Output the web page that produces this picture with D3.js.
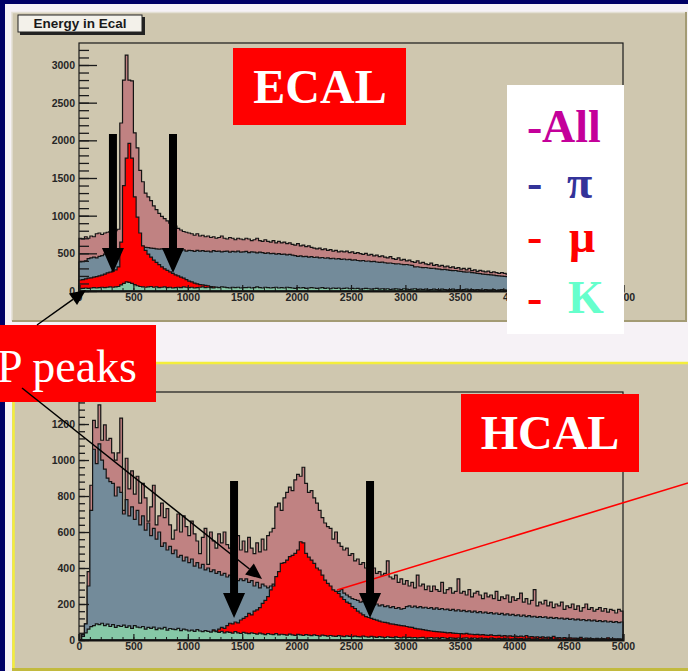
<!DOCTYPE html>
<html>
<head>
<meta charset="utf-8">
<script src="https://cdn.jsdelivr.net/npm/d3@7"></script>
<style>
body { margin: 0; background: #f6f2f6; }
svg { display: block; }
</style>
</head>
<body>
<svg id="chart" width="688" height="671"></svg>
<script>
const svg = d3.select("#chart");

const binWidth = 25;
const xMax = 5000;
const xTicks = [0, 500, 1000, 1500, 2000, 2500, 3000, 3500, 4000, 4500, 5000];
const ecalYTicks = [0, 500, 1000, 1500, 2000, 2500, 3000];
const hcalYTicks = [0, 200, 400, 600, 800, 1000, 1200];

// ECAL, 200 bins of 25
const ecalAll = [700, 690, 720, 700, 730, 720, 760, 770, 750, 770, 780,
  790, 780, 800, 820,
  2230, 2800, 3130, 2800, 2790,
  2100, 1900, 1600, 1450, 1300, 1250, 1200, 1130, 1080, 1030,
  990, 960, 930, 900, 880, 860, 830, 810, 790, 780, 770, 760,
  740, 760, 730, 740, 720, 730, 710, 720, 700, 710, 730, 700, 690, 710, 700, 680, 700,
  690, 680, 700, 690, 670, 680, 700, 670, 660, 680, 660, 650, 670, 640, 660, 640, 650, 630, 640, 620,
  610, 630, 600, 610, 590, 600, 580, 570, 560, 570, 550, 560, 540, 550, 530, 540, 520, 530,
  520, 530, 510, 520, 500, 510, 495, 485, 500, 475, 485, 465, 475, 455, 465, 450, 440, 455, 430, 420, 440, 410, 420, 400,
  410, 390, 380, 400, 370, 380, 360, 350, 370, 340, 350, 330, 340, 320, 330, 310, 320, 300, 310, 290,
  300, 280, 300, 270, 280, 260, 275, 265, 255, 265, 245, 255, 245, 235, 245, 235, 225,
  215, 205, 210, 200, 205, 195, 200, 190, 195, 185, 190, 180, 185, 178, 180, 172, 175, 168, 170, 165,
  168, 160, 163, 158, 160, 155, 158, 150, 153, 148, 150, 145, 148, 142, 145, 140, 142, 138, 140, 135, 137, 132];

const ecalPi = [385, 390, 400, 430, 440, 450, 440, 460, 470, 490, 500, 500, 510, 520,
  540, 560, 570, 580, 590, 600, 600, 600, 590,
  585, 580, 575, 570, 565, 560, 555, 560, 550, 545, 550, 540, 545,
  540, 535, 545, 530, 540, 535, 525, 540, 530, 535, 525, 530, 520, 535, 525, 530, 520, 525, 530, 515,
  525, 520, 530, 515, 520, 525, 510, 520, 515, 505, 515, 510,
  500, 505, 495, 500, 490, 495, 485, 490, 480, 485, 475,
  470, 460, 465, 455, 460, 450, 455, 445, 450, 440, 445, 435, 440, 430, 435, 425, 430, 420,
  425, 415, 420, 410, 412, 405, 400, 405, 395, 398, 390, 392, 385,
  380, 382, 375, 370, 372, 365, 360, 362, 355, 350, 352, 345, 340,
  320, 322, 315, 310, 312, 305, 300, 302, 295, 290, 285, 287,
  280, 275, 270, 272, 265, 260, 255, 250, 252, 245, 240, 235,
  230, 225, 222, 218, 214, 210, 205, 200, 198, 194, 190,
  188, 185, 183, 180, 178, 175, 173, 170, 168, 166, 164, 162, 160, 158, 156, 154, 152, 150, 148, 146,
  144, 142, 140, 138, 136, 134, 132, 130, 128, 126, 124, 122, 120, 118, 116, 114, 112, 111, 110, 109, 108, 107];

const ecalMu = [146, 150, 160, 170, 175, 185, 190, 200, 210, 225, 240, 250, 265, 280, 320,
  650, 1400, 1765, 1960, 1765, 1250, 980, 770, 600, 540,
  490, 450, 410, 380, 350, 320, 295, 275, 255, 235, 215, 200, 185, 170, 150,
  130, 120, 105, 95, 85, 80, 75, 70, 60, 55, 50, 45, 40, 50, 35, 30, 40, 25, 20, 30,
  15, 20, 10, 25, 10, 5, 15, 20, 10, 5, 15, 10, 20, 5, 10, 15, 5, 10, 5, 10];

const ecalK = [30, 35, 40, 35, 40, 45, 40, 45, 50, 45, 50, 55, 50, 55, 60,
  80, 100, 120, 115, 100, 85, 70, 60,
  55, 50, 55, 60, 50, 55, 45, 50, 55, 45, 50, 40, 45, 50, 45, 55, 50, 45, 50, 40,
  45, 50, 55, 45, 50, 45, 40, 50, 45, 55, 50, 45, 40, 50, 45, 50, 40, 45,
  45, 50, 40, 45, 55, 45, 40, 50, 45, 40, 45, 50, 40, 45, 40, 50, 45, 40, 35, 45,
  40, 45, 35, 40, 45, 40, 35, 40, 45, 35, 40, 30, 40, 35, 40, 30, 35, 40, 30, 35,
  30, 35, 25, 30, 35, 30, 25, 30, 35, 25, 30, 25, 30, 20, 25, 30, 25, 20, 30, 25,
  20, 25, 30, 20, 25, 20, 25, 15, 20, 25, 20, 15, 25, 20, 15, 20, 25, 15, 20, 15,
  20, 25, 15, 20, 15, 20, 15, 10, 20, 15,
  15, 20, 10, 15, 20, 15, 10, 15, 10, 15, 20, 10, 15, 10, 15, 10, 5, 15, 10, 15,
  10, 5, 10, 15, 10, 5, 10, 10, 5, 10, 15, 5, 10, 5, 10, 5, 10, 5, 5, 10,
  5, 10, 5, 5, 10, 5, 5, 10, 5];

// HCAL, 200 bins of 25
const hcalAll = [0, 30, 90, 380, 860, 1220, 1180, 1306, 1110, 1195,
  1110, 1120, 1040, 1000, 1040, 1233, 720, 1010, 840, 940,
  810, 910, 760, 870, 790, 660, 740, 860, 640, 690,
  760, 680, 730, 640, 560, 610, 700, 600, 690, 630,
  580, 660, 590, 550, 480, 570, 620, 420, 600, 550,
  510, 590, 540, 600, 530, 510, 570, 380, 580, 500,
  550, 490, 570, 510, 480, 540, 490, 560, 500, 580,
  600, 620, 740, 760, 720, 790, 820, 850, 830, 890,
  920, 910, 960, 870, 820, 830, 790, 760, 720, 680,
  650, 630, 620, 560, 600, 540, 520, 500, 510, 470,
  480, 440, 450, 420, 430, 400, 420, 390, 400, 370,
  380, 360, 370, 440, 350, 340, 360, 320, 340, 310,
  330, 300, 320, 290, 360, 300, 310, 280, 300, 270,
  300, 280, 270, 320, 260, 280, 290, 260, 270, 340,
  260, 270, 250, 280, 240, 260, 270, 250, 230, 260,
  240, 250, 230, 270, 220, 240, 230, 250, 210, 240,
  220, 230, 260, 210, 230, 200, 220, 280, 190, 210,
  200, 220, 190, 210, 180, 200, 190, 210, 170, 190,
  180, 200, 170, 190, 160, 180, 200, 170, 180, 160,
  170, 180, 160, 175, 155, 170, 165, 150, 170, 160];

const hcalPi = [0, 30, 90, 300, 720, 1060, 980, 1090, 1000, 950,
  900, 880, 870, 800, 850, 820, 700, 780, 690, 740,
  670, 720, 640, 690, 610, 650, 580, 620, 560, 600,
  520, 540, 500, 520, 480, 500, 460, 470, 440, 460,
  430, 450, 410, 430, 400, 420, 390, 400, 380, 390,
  370, 380, 360, 370, 350, 360, 340, 350, 330, 340,
  330, 340, 320, 330, 300, 320, 290, 310, 300, 290,
  300, 310, 290, 300, 280, 290, 270, 280, 270, 260,
  260, 270, 250, 260, 250, 240, 250, 240, 230, 240,
  230, 240, 230, 250, 260, 270, 280, 260, 250, 240,
  230, 225, 220, 210, 215, 205, 200, 205, 195, 200,
  190, 195, 185, 190, 180, 185, 175, 180, 172, 175,
  185, 190, 182, 188, 180, 185, 178, 182, 175, 180,
  172, 178, 170, 175, 168, 172, 165, 170, 162, 168,
  160, 165, 158, 162, 155, 160, 152, 158, 150, 155,
  148, 152, 145, 150, 142, 148, 140, 145, 138, 142,
  135, 140, 132, 138, 130, 135, 128, 132, 126, 130,
  125, 128, 122, 126, 120, 124, 118, 122, 116, 120,
  115, 118, 112, 116, 110, 114, 108, 112, 106, 110,
  104, 108, 102, 106, 100, 104, 98, 102, 96, 100];

const hcalMu = [0, 0, 0, 0, 0, 0, 0, 0, 0, 0, 0, 0, 0, 0, 0, 0, 0, 0, 0, 0,
  0, 0, 0, 0, 0, 0, 0, 0, 0, 0, 0, 0, 0, 0, 0, 0, 0, 0, 0, 0,
  0, 0, 0, 0, 0, 0, 0,
  20, 40, 56, 50, 60, 70, 65, 80, 93, 90, 100, 95, 111,
  120, 130, 148, 140, 160, 167, 180, 204, 220, 241,
  278, 300, 352, 380, 426, 430, 444, 463, 470, 481,
  500, 546, 540, 481, 460, 444, 426, 400, 389, 360,
  333, 315, 300, 278, 270, 259, 240, 225, 210, 204,
  185, 175, 160, 150, 140, 130, 125, 120, 115, 110,
  105, 100, 98, 95, 90, 88, 85, 83, 80, 78,
  75, 72, 70, 65, 62, 60, 58, 55, 52, 50,
  48, 46, 45, 44, 42, 40, 41, 38, 37, 36,
  35, 34, 37, 33, 32, 30, 31, 28, 30, 27,
  26, 28, 25, 24, 26, 22, 24, 21, 23, 20,
  22, 19, 21, 18, 25, 17, 19, 16, 18, 15,
  17, 14, 16, 13, 20, 12, 14, 11, 13, 10,
  12, 10, 11, 9, 15, 8, 10, 9, 8, 7, 9, 6, 8, 7, 12, 6, 7, 5, 6, 5];

const hcalK = [0, 20, 40, 60,
  74, 80, 90, 85, 93, 80, 88, 75, 85, 70, 80,
  75, 83, 70, 78, 65, 80, 72, 68, 75, 60, 70, 65, 72, 58, 66, 62, 70, 55, 64, 60, 58, 65, 52, 60, 56, 50,
  55, 48, 58, 50, 46, 52, 48, 44, 50, 46, 42, 48, 40, 45, 42, 38, 46, 40, 36, 42,
  38, 35, 40, 36, 33, 38, 34, 30, 36, 32, 30, 35, 28, 32, 30, 27, 33, 29, 26, 31,
  28, 25, 30, 27, 24, 28, 25, 22, 27, 24, 21, 25, 22, 20, 24, 21, 19, 23, 20, 18,
  22, 19, 17, 21, 18, 16, 20, 17, 15, 19, 16, 14, 18, 15, 13, 17, 14, 12, 16, 13,
  15, 12, 14, 11, 13, 15, 10, 12, 14, 10, 12, 9, 13, 11, 8, 12, 10, 9, 11, 8,
  10, 12, 7, 9, 11, 8, 10, 7, 9, 6, 10, 8, 7, 9, 6, 8, 10, 5, 7, 9,
  6, 8, 5, 7, 9, 5, 6, 8, 4, 6, 7, 5, 8, 4, 6, 5, 7, 4, 6, 5,
  3, 6, 5, 4, 7, 3, 5, 6, 4, 5, 3, 6, 4, 5, 3, 4, 5, 3, 4];

const colAll = "#c08282", colPi = "#738b9a", colMu = "#ff0000", colK = "#86c8a6";
const padFill = "#cfc7af";
const serif = "'Liberation Serif', 'Times New Roman', serif";
const sans = "'Liberation Sans', Arial, sans-serif";

// slide background
svg.append("rect").attr("width", 688).attr("height", 671).attr("fill", "#f6f2f6");
svg.append("rect").attr("width", 688).attr("height", 4).attr("fill", "#000066");
svg.append("rect").attr("width", 5).attr("height", 671).attr("fill", "#000066");

// pads
svg.append("rect").attr("x", 12).attr("y", 12).attr("width", 675).attr("height", 310).attr("fill", padFill);
svg.append("path").attr("d", "M12,321V12.5H687").attr("fill", "none").attr("stroke", "#e4e0d4").attr("stroke-width", 1.5);
svg.append("path").attr("d", "M12,321H686V12").attr("fill", "none").attr("stroke", "#a39b74").attr("stroke-width", 2);

svg.append("rect").attr("x", 12).attr("y", 362).attr("width", 676).attr("height", 309).attr("fill", padFill);
svg.append("path").attr("d", "M13.5,671V363H688").attr("fill", "none").attr("stroke", "#f4ee3c").attr("stroke-width", 2.5);
svg.append("path").attr("d", "M12,669.5H688").attr("fill", "none").attr("stroke", "#c2ba3e").attr("stroke-width", 3);

function histPath(vals, x, y) {
  const pts = vals.map((v, i) => [i * binWidth, v]);
  pts.push([vals.length * binWidth, vals[vals.length - 1]]);
  return d3.area().curve(d3.curveStepAfter)
    .x(d => x(d[0])).y0(y(0)).y1(d => y(d[1]))(pts);
}

function drawPanel(p) {
  const g = svg.append("g");
  const x = d3.scaleLinear().domain([0, xMax]).range([p.left, p.right]);
  const y = d3.scaleLinear().domain([0, p.yMax]).range([p.bottom, p.top]);

  p.series.forEach(s => {
    g.append("path")
      .attr("d", histPath(s.values, x, y))
      .attr("fill", s.color)
      .attr("stroke", "#141414")
      .attr("stroke-width", 1.2);
  });

  g.append("rect")
    .attr("x", p.left).attr("y", p.top)
    .attr("width", p.right - p.left).attr("height", p.bottom - p.top)
    .attr("fill", "none").attr("stroke", "#1a1a1a").attr("stroke-width", 1.2);

  // y axis, ticks pointing into the frame
  g.append("g")
    .attr("transform", "translate(" + p.left + ",0)")
    .call(d3.axisLeft(y).tickValues(d3.range(0, p.yMax, p.yMinor)).tickSize(-p.minorLen).tickFormat(""))
    .call(a => a.select(".domain").remove())
    .selectAll("line").attr("stroke", "#1a1a1a").attr("stroke-width", 1.3);

  const ya = g.append("g")
    .attr("transform", "translate(" + p.left + ",0)")
    .call(d3.axisLeft(y).tickValues(p.yTicks).tickSize(-p.majorLen).tickPadding(4).tickFormat(d3.format("d")));
  ya.select(".domain").remove();
  ya.selectAll("line").attr("stroke", "#1a1a1a").attr("stroke-width", 1.3);
  ya.selectAll("text").attr("font-family", sans).attr("font-weight", "bold")
    .attr("font-size", 10.5).attr("fill", "#262626");

  // x axis
  g.append("g")
    .attr("transform", "translate(0," + p.bottom + ")")
    .call(d3.axisBottom(x).tickValues(d3.range(0, xMax + 1, 100)).tickSize(-3).tickFormat(""))
    .call(a => a.select(".domain").remove())
    .selectAll("line").attr("stroke", "#1a1a1a");

  const hidden = p.hiddenLabels || [];
  const xa = g.append("g")
    .attr("transform", "translate(0," + p.bottom + ")")
    .call(d3.axisBottom(x).tickValues(xTicks).tickSize(-6).tickPadding(3)
      .tickFormat(d => hidden.includes(d) ? "" : d3.format("d")(d)));
  xa.select(".domain").attr("stroke", "#111").attr("stroke-width", 2.2);
  xa.selectAll("line").attr("stroke", "#1a1a1a").attr("stroke-width", 1.2);
  xa.selectAll("text").attr("font-family", sans).attr("font-weight", "bold")
    .attr("font-size", 10.5).attr("fill", "#262626");

  return { x, y };
}

const ecal = drawPanel({
  left: 79, right: 623, top: 43, bottom: 291, yMax: 3292,
  yTicks: ecalYTicks, yMinor: 100, majorLen: 18, minorLen: 10,
  hiddenLabels: [4500],   // sits fully under the legend box
  series: [
    { values: ecalAll, color: colAll },
    { values: ecalPi, color: colPi },
    { values: ecalMu, color: colMu },
    { values: ecalK, color: colK }
  ]
});

const hcal = drawPanel({
  left: 79, right: 623, top: 392, bottom: 640, yMax: 1378,
  yTicks: hcalYTicks, yMinor: 40, majorLen: 10, minorLen: 6,
  series: [
    { values: hcalAll, color: colAll },
    { values: hcalPi, color: colPi },
    { values: hcalMu, color: colMu },
    { values: hcalK, color: colK }
  ]
});

// histogram title box
svg.append("rect").attr("x", 20).attr("y", 17).attr("width", 125).attr("height", 18).attr("fill", "#222");
svg.append("rect").attr("x", 18).attr("y", 15).attr("width", 124).attr("height", 17)
  .attr("fill", "#f3f1ea").attr("stroke", "#222").attr("stroke-width", 1);
svg.append("text").attr("x", 80).attr("y", 27.5).attr("text-anchor", "middle")
  .attr("font-family", sans).attr("font-weight", "bold").attr("font-size", 13.5)
  .attr("fill", "#1a1a1a").text("Energy in Ecal");

// red labels
function redLabel(x0, y0, w, h, txt, tx, ty, opts) {
  svg.append("rect").attr("x", x0).attr("y", y0).attr("width", w).attr("height", h).attr("fill", "#ff0000");
  svg.append("text").attr("x", tx).attr("y", ty)
    .attr("text-anchor", opts.anchor).attr("font-family", serif)
    .attr("font-weight", opts.weight).attr("font-size", opts.size)
    .attr("fill", "#ffffff").text(txt);
}
redLabel(233, 48, 173, 77, "ECAL", 320, 103, { anchor: "middle", weight: "bold", size: 48 });
redLabel(461, 394, 178, 78, "HCAL", 550, 449, { anchor: "middle", weight: "bold", size: 48 });

// legend
svg.append("rect").attr("x", 507).attr("y", 85).attr("width", 117).attr("height", 249).attr("fill", "#ffffff");
const legendRows = [
  { dash: "-", dashColor: "#c4009a", sym: "All", color: "#c4009a", y: 142, sx: 542 },
  { dash: "-", dashColor: "#333399", sym: "\u03c0", color: "#333399", y: 198, sx: 567 },
  { dash: "-", dashColor: "#ff0000", sym: "\u03bc", color: "#ff0000", y: 252, sx: 569 },
  { dash: "-", dashColor: "#ff0000", sym: "K", color: "#66ffcc", y: 313, sx: 568 }
];
legendRows.forEach(r => {
  svg.append("text").attr("x", 527).attr("y", r.y).attr("font-family", serif)
    .attr("font-weight", "bold").attr("font-size", 46).attr("fill", r.dashColor).text(r.dash);
  svg.append("text").attr("x", r.sx).attr("y", r.y).attr("font-family", serif)
    .attr("font-weight", "bold").attr("font-size", 46).attr("fill", r.color).text(r.sym);
});

redLabel(0, 325, 156, 77, "MIP peaks", 137, 382, { anchor: "end", weight: "normal", size: 46 });

// thin arrows from the MIP label
function thinArrow(x1, y1, x2, y2) {
  const dx = x2 - x1, dy = y2 - y1, len = Math.hypot(dx, dy);
  const ux = dx / len, uy = dy / len, hl = 16, hw = 7;
  const bx = x2 - ux * hl, by = y2 - uy * hl;
  svg.append("line").attr("x1", x1).attr("y1", y1).attr("x2", bx).attr("y2", by)
    .attr("stroke", "#000").attr("stroke-width", 1.5);
  svg.append("path")
    .attr("d", "M" + x2 + "," + y2 + "L" + (bx - uy * hw) + "," + (by + ux * hw) +
      "L" + (bx + uy * hw) + "," + (by - ux * hw) + "Z")
    .attr("fill", "#000");
}
thinArrow(37, 325, 86, 290);
thinArrow(22, 388, 262, 579);

// red pointer line
svg.append("line").attr("x1", 337).attr("y1", 590).attr("x2", 688).attr("y2", 483)
  .attr("stroke", "#ff0000").attr("stroke-width", 1.6);

// block arrows marking the MIP region
function blockArrow(sc, e, vTop, vTip) {
  const cx = sc.x(e), top = sc.y(vTop), tip = sc.y(vTip);
  const headTop = tip - 25;
  svg.append("path")
    .attr("d", "M" + (cx - 4) + "," + top + "H" + (cx + 4) + "V" + headTop +
      "H" + (cx + 11) + "L" + cx + "," + tip + "L" + (cx - 11) + "," + headTop +
      "H" + (cx - 4) + "Z")
    .attr("fill", "#000");
}
const ecalArrows = [312, 864];
const hcalArrows = [1425, 2675];
ecalArrows.forEach(e => blockArrow(ecal, e, 2083, 239));
hcalArrows.forEach(e => blockArrow(hcal, e, 883, 122));
</script>
</body>
</html>
